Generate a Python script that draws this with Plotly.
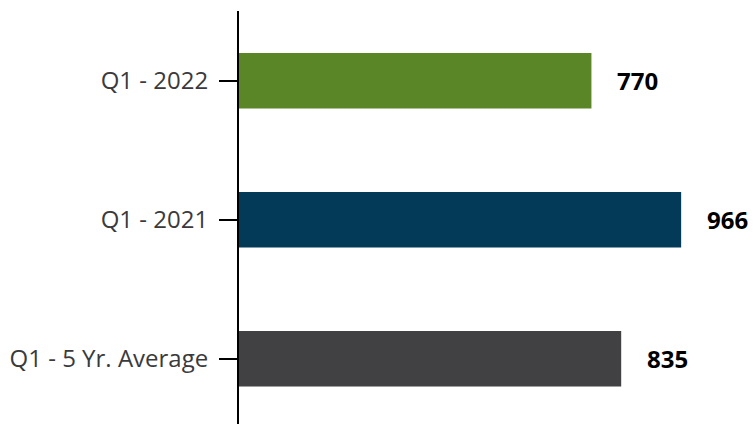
import plotly.graph_objects as go

categories = ["Q1 - 5 Yr. Average", "Q1 - 2021", "Q1 - 2022"]
values = [835, 966, 770]
colors = ["#414042", "#023A57", "#5B8628"]

fig = go.Figure()
fig.add_trace(go.Bar(
    y=categories, x=values, orientation="h",
    marker=dict(color=colors, line=dict(width=0)),
    width=0.4, hoverinfo="skip",
))

for c, v in zip(categories, values):
    fig.add_annotation(
        x=v, y=c, text=f"<b>{v}</b>", showarrow=False,
        xanchor="left", yanchor="middle", xshift=24,
        font=dict(family="Open Sans", size=24, color="#000000"),
    )

fig.update_layout(
    width=756, height=424,
    margin=dict(l=231, r=0, t=3, b=0),
    paper_bgcolor="white", plot_bgcolor="white",
    showlegend=False,
    xaxis=dict(range=[0, 1147], visible=False, showgrid=False, zeroline=False),
    yaxis=dict(
        range=[-0.527, 2.502], showgrid=False, zeroline=False,
        showline=True, linecolor="#000000", linewidth=2,
        ticks="outside", ticklen=18, tickwidth=2, tickcolor="#000000",
        ticklabelstandoff=6,
        tickfont=dict(family="Open Sans", size=24, color="#3A3A3C"),
    ),
)

fig.write_html("out.html")
